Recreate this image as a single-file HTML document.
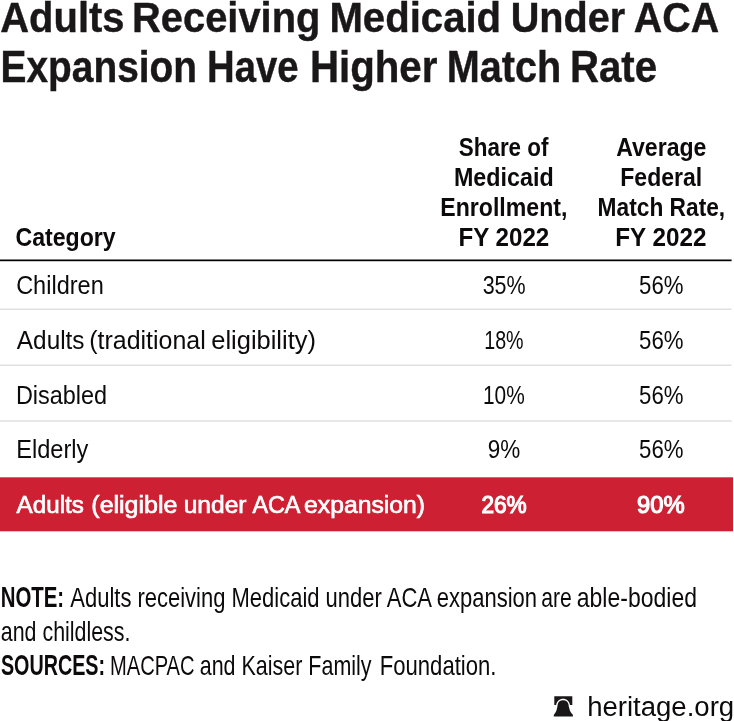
<!DOCTYPE html>
<html lang="en"><head><meta charset="utf-8"><title>Adults Receiving Medicaid Under ACA Expansion Have Higher Match Rate</title>
<style>
html,body{margin:0;padding:0;background:#fff;overflow:hidden;}
html{width:734px;height:721px;}
body{width:734px;height:721px;position:relative;overflow:hidden;font-family:"Liberation Sans",sans-serif;}
.t{position:absolute;left:0;white-space:nowrap;line-height:1;transform-origin:0 0;display:block;}
.t b{font-weight:700;}
#wrap{position:absolute;left:0;top:0;width:734px;height:721px;overflow:hidden;will-change:transform;}
</style></head><body>
<div id="wrap">
<svg style="position:absolute;left:0;top:0" width="734" height="721" viewBox="0 0 734 721">
<rect x="0" y="259.5" width="731.6" height="1.7" fill="#000"/>
<rect x="0" y="308.65" width="731.6" height="1" fill="#d2d2d2"/>
<rect x="0" y="364.65" width="731.6" height="1" fill="#d2d2d2"/>
<rect x="0" y="420.5" width="731.6" height="1" fill="#d2d2d2"/>
<rect x="0" y="477.3" width="733" height="54" fill="#ce2033"/>
</svg>
<svg style="position:absolute;left:553px;top:695.5px" width="21" height="21" viewBox="0 0 21 21">
<path d="M1.3 0.35 H19.3 V9.1 H17 C16.4 5.4 13.7 2.75 10.04 2.75 C6.4 2.75 3.7 5.4 3.1 9.1 H1.3 Z" fill="#1a1718"/>
<path d="M10.04 4.2 C12.9 4.2 14.9 5.8 15.4 8 C15.7 10 16 11.5 16.35 12.6 C16.8 14.5 17.4 16.2 19.1 17.9 L19.9 18.7 V20.6 H0.8 V18.7 L1.5 17.9 C3.1 16.2 3.5 14.5 3.95 12.6 C4.2 11.5 4.5 10 4.8 8 C5.3 5.8 7.2 4.2 10.04 4.2 Z" fill="#1a1718"/>
</svg>
<span class="t" style="top:-3.97px;font-size:43.31px;font-weight:700;color:#1a1718;transform:translateX(0.20px) scaleX(0.9233);-webkit-text-stroke:0.4px #1a1718;">Adults</span>
<span class="t" style="top:-3.97px;font-size:43.31px;font-weight:700;color:#1a1718;transform:translateX(132.09px) scaleX(0.9205);-webkit-text-stroke:0.4px #1a1718;">Receiving</span>
<span class="t" style="top:-3.97px;font-size:43.31px;font-weight:700;color:#1a1718;transform:translateX(329.38px) scaleX(0.9270);-webkit-text-stroke:0.4px #1a1718;">Medicaid</span>
<span class="t" style="top:-3.97px;font-size:43.31px;font-weight:700;color:#1a1718;transform:translateX(510.67px) scaleX(0.9161);-webkit-text-stroke:0.4px #1a1718;">Under</span>
<span class="t" style="top:-3.97px;font-size:43.31px;font-weight:700;color:#1a1718;transform:translateX(633.77px) scaleX(0.9094);-webkit-text-stroke:0.4px #1a1718;">ACA</span>
<span class="t" style="top:44.97px;font-size:44.04px;font-weight:700;color:#1a1718;transform:translateX(0.59px) scaleX(0.8824);-webkit-text-stroke:0.4px #1a1718;">Expansion</span>
<span class="t" style="top:44.97px;font-size:44.04px;font-weight:700;color:#1a1718;transform:translateX(207.05px) scaleX(0.8690);-webkit-text-stroke:0.4px #1a1718;">Have</span>
<span class="t" style="top:44.97px;font-size:44.04px;font-weight:700;color:#1a1718;transform:translateX(309.91px) scaleX(0.9140);-webkit-text-stroke:0.4px #1a1718;">Higher</span>
<span class="t" style="top:44.97px;font-size:44.04px;font-weight:700;color:#1a1718;transform:translateX(446.78px) scaleX(0.9001);-webkit-text-stroke:0.4px #1a1718;">Match</span>
<span class="t" style="top:44.97px;font-size:44.04px;font-weight:700;color:#1a1718;transform:translateX(569.91px) scaleX(0.9141);-webkit-text-stroke:0.4px #1a1718;">Rate</span>
<span class="t" style="top:225.01px;font-size:25.15px;font-weight:700;color:#0c0a0a;transform:translateX(15.45px) scaleX(0.9201);">Category</span>
<span class="t" style="top:134.96px;font-size:25.15px;font-weight:700;color:#0c0a0a;transform:translateX(458.77px) scaleX(0.8918);">Share of</span>
<span class="t" style="top:164.96px;font-size:25.15px;font-weight:700;color:#0c0a0a;transform:translateX(453.94px) scaleX(0.9269);">Medicaid</span>
<span class="t" style="top:194.91px;font-size:25.15px;font-weight:700;color:#0c0a0a;transform:translateX(440.33px) scaleX(0.9185);">Enrollment,</span>
<span class="t" style="top:225.01px;font-size:25.15px;font-weight:700;color:#0c0a0a;transform:translateX(458.50px) scaleX(0.9595);">FY 2022</span>
<span class="t" style="top:134.96px;font-size:25.15px;font-weight:700;color:#0c0a0a;transform:translateX(616.20px) scaleX(0.9176);">Average</span>
<span class="t" style="top:164.96px;font-size:25.15px;font-weight:700;color:#0c0a0a;transform:translateX(620.30px) scaleX(0.9163);">Federal</span>
<span class="t" style="top:194.91px;font-size:25.15px;font-weight:700;color:#0c0a0a;transform:translateX(597.59px) scaleX(0.9041);">Match Rate,</span>
<span class="t" style="top:225.01px;font-size:25.15px;font-weight:700;color:#0c0a0a;transform:translateX(615.22px) scaleX(0.9651);">FY 2022</span>
<span class="t" style="top:271.93px;font-size:26.02px;font-weight:400;color:#0c0a0a;transform:translateX(16.14px) scaleX(0.9040);">Children</span>
<span class="t" style="top:327.03px;font-size:26.02px;font-weight:400;color:#0c0a0a;transform:translateX(16.85px) scaleX(0.9360);">Adults</span>
<span class="t" style="top:327.03px;font-size:26.02px;font-weight:400;color:#0c0a0a;transform:translateX(89.26px) scaleX(0.9584);">(traditional</span>
<span class="t" style="top:327.03px;font-size:26.02px;font-weight:400;color:#0c0a0a;transform:translateX(211.23px) scaleX(0.9792);">eligibility)</span>
<span class="t" style="top:381.93px;font-size:26.02px;font-weight:400;color:#0c0a0a;transform:translateX(15.94px) scaleX(0.9011);">Disabled</span>
<span class="t" style="top:436.03px;font-size:26.02px;font-weight:400;color:#0c0a0a;transform:translateX(16.14px) scaleX(0.9075);">Elderly</span>
<span class="t" style="top:492.98px;font-size:24.42px;font-weight:400;color:#fff;transform:translateX(16.60px) scaleX(0.9914);-webkit-text-stroke:0.7px #fff;">Adults</span>
<span class="t" style="top:492.98px;font-size:24.42px;font-weight:400;color:#fff;transform:translateX(91.31px) scaleX(1.0236);-webkit-text-stroke:0.7px #fff;">(eligible</span>
<span class="t" style="top:492.98px;font-size:24.42px;font-weight:400;color:#fff;transform:translateX(183.63px) scaleX(1.0071);-webkit-text-stroke:0.7px #fff;">under</span>
<span class="t" style="top:492.98px;font-size:24.42px;font-weight:400;color:#fff;transform:translateX(252.38px) scaleX(0.9574);-webkit-text-stroke:0.7px #fff;">ACA</span>
<span class="t" style="top:492.98px;font-size:24.42px;font-weight:400;color:#fff;transform:translateX(304.11px) scaleX(1.0126);-webkit-text-stroke:0.7px #fff;">expansion)</span>
<span class="t" style="top:271.93px;font-size:26.02px;font-weight:400;color:#0c0a0a;transform:translateX(482.63px) scaleX(0.8249);">35%</span>
<span class="t" style="top:327.03px;font-size:26.02px;font-weight:400;color:#0c0a0a;transform:translateX(484.19px) scaleX(0.7562);">18%</span>
<span class="t" style="top:381.93px;font-size:26.02px;font-weight:400;color:#0c0a0a;transform:translateX(482.94px) scaleX(0.8016);">10%</span>
<span class="t" style="top:436.03px;font-size:26.02px;font-weight:400;color:#0c0a0a;transform:translateX(487.70px) scaleX(0.8642);">9%</span>
<span class="t" style="top:492.96px;font-size:24.56px;font-weight:400;color:#fff;transform:translateX(481.42px) scaleX(0.9223);-webkit-text-stroke:1.2px #fff;">26%</span>
<span class="t" style="top:271.93px;font-size:26.02px;font-weight:400;color:#0c0a0a;transform:translateX(639.12px) scaleX(0.8531);">56%</span>
<span class="t" style="top:327.03px;font-size:26.02px;font-weight:400;color:#0c0a0a;transform:translateX(639.12px) scaleX(0.8531);">56%</span>
<span class="t" style="top:381.93px;font-size:26.02px;font-weight:400;color:#0c0a0a;transform:translateX(639.12px) scaleX(0.8531);">56%</span>
<span class="t" style="top:436.03px;font-size:26.02px;font-weight:400;color:#0c0a0a;transform:translateX(639.12px) scaleX(0.8531);">56%</span>
<span class="t" style="top:492.96px;font-size:24.56px;font-weight:400;color:#fff;transform:translateX(637.02px) scaleX(0.9686);-webkit-text-stroke:1.2px #fff;">90%</span>
<span class="t" style="top:581.97px;font-size:29.51px;font-weight:700;color:#0c0a0a;transform:translateX(0.65px) scaleX(0.6915);">NOTE:</span>
<span class="t" style="top:584.00px;font-size:28.05px;font-weight:400;color:#0c0a0a;transform:translateX(70.28px) scaleX(0.7837);">Adults receiving Medicaid under ACA expansion</span>
<span class="t" style="top:584.00px;font-size:28.05px;font-weight:400;color:#0c0a0a;transform:translateX(541.20px) scaleX(0.7538);">are</span>
<span class="t" style="top:584.00px;font-size:28.05px;font-weight:400;color:#0c0a0a;transform:translateX(576.80px) scaleX(0.8196);">able-bodied</span>
<span class="t" style="top:618.00px;font-size:28.05px;font-weight:400;color:#0c0a0a;transform:translateX(0.77px) scaleX(0.7632);">and childless.</span>
<span class="t" style="top:649.97px;font-size:29.51px;font-weight:700;color:#0c0a0a;transform:translateX(0.92px) scaleX(0.6691);">SOURCES:</span>
<span class="t" style="top:652.00px;font-size:28.05px;font-weight:400;color:#0c0a0a;transform:translateX(109.92px) scaleX(0.7182);">MACPAC</span>
<span class="t" style="top:652.00px;font-size:28.05px;font-weight:400;color:#0c0a0a;transform:translateX(199.69px) scaleX(0.7659);">and Kaiser Family</span>
<span class="t" style="top:652.00px;font-size:28.05px;font-weight:400;color:#0c0a0a;transform:translateX(379.70px) scaleX(0.7885);">Foundation.</span>
<span class="t" style="top:693.99px;font-size:27.00px;font-weight:400;color:#0c0a0a;transform:translateX(587.14px) scaleX(1.0202);">heritage.org</span>
</div>
</body></html>
